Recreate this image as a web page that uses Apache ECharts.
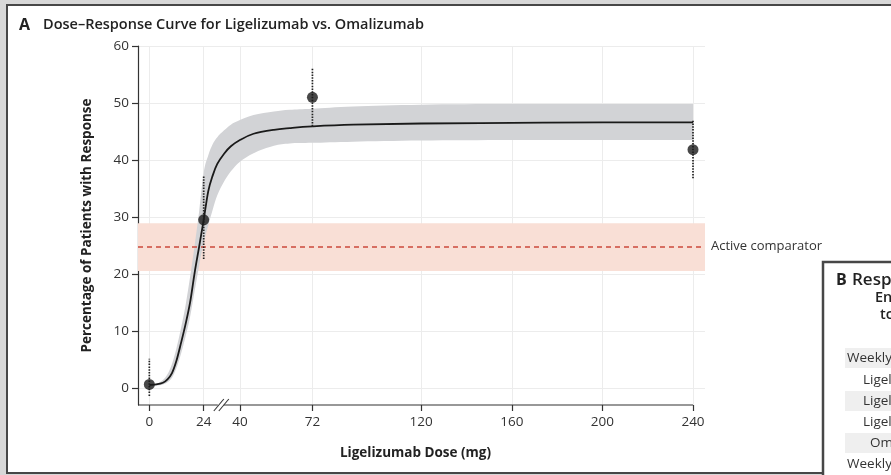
<!DOCTYPE html>
<html>
<head>
<meta charset="utf-8">
<title>Dose-Response Curve</title>
<script src="https://cdn.jsdelivr.net/npm/echarts@6/dist/echarts.min.js"></script>
<style>
    html, body { margin: 0; padding: 0; background: #d8d8d8; overflow: hidden; }
    #frame {
        position: absolute; left: 6px; top: 3.5px; width: 1000px; height: 466px;
        background: #fff; border: 2.5px solid #474747;
    }
    #chart { position: absolute; left: 0; top: 0; width: 891px; height: 475px; }
</style>
</head>
<body>
<div id="frame"></div>
<div id="chart"></div>
<script>
"use strict";

// fitted curve (dose in mg, % with response)
var curveDoses  = [0, 3, 6, 8, 10, 12, 14, 16, 18, 20, 22, 24, 26, 28, 30, 33, 36, 40, 46, 55, 62, 72, 90, 120, 160, 200, 240];
var curveValues = [0.5, 0.6, 0.9, 1.5, 2.6, 4.8, 7.9, 11.2, 15.0, 20.2, 24.8, 29.5, 34.5, 37.3, 39.3, 41.1, 42.4, 43.5, 44.6, 45.3, 45.6, 45.9, 46.2, 46.4, 46.5, 46.6, 46.6];
// shaded uncertainty band around the curve
var bandUpper   = [0.5, 0.7, 1.4, 2.4, 4.2, 7.0, 10.5, 14.5, 19.5, 25.0, 31.0, 37.8, 40.8, 42.8, 44.0, 45.2, 46.2, 47.0, 47.9, 48.5, 48.8, 49.0, 49.4, 49.7, 49.8, 49.8, 49.8];
var bandLower   = [0.3, 0.4, 0.6, 1.0, 1.8, 3.5, 6.0, 9.0, 12.5, 17.0, 21.5, 25.5, 28.5, 31.3, 33.8, 36.2, 38.0, 39.7, 41.2, 42.5, 42.9, 43.0, 43.2, 43.4, 43.5, 43.5, 43.5];

// observed response rates with intervals
var pointDoses  = [0, 24, 72, 240];
var pointValues = [0.6, 29.5, 51.0, 41.8];
var pointLow    = [-1.4, 22.6, 45.9, 36.8];
var pointHigh   = [5.1, 37.1, 56.1, 47.0];

// active comparator (omalizumab)
var comparatorValue = 24.8;
var comparatorLow   = 20.5;
var comparatorHigh  = 28.9;

var xTicks = [0, 24, 40, 72, 120, 160, 200, 240];
var yTicks = [0, 10, 20, 30, 40, 50, 60];

var panelBRows = [
    'Weekly hives-severity score of 0',
    'Ligelizumab, 72 mg',
    'Ligelizumab, 240 mg',
    'Ligelizumab, 24 mg',
    'Omalizumab, 300 mg',
    'Weekly urticaria activity score of 0'
];

var FONT = '"Open Sans", "Noto Sans", sans-serif';
var X_MIN = -5, X_MAX = 245.3, Y_MIN = -3, Y_MAX = 60;
var X_AXIS_END = 240, X_BREAK = 32;

var chart = echarts.init(document.getElementById('chart'), null, { renderer: 'canvas' });

function pairs(xs, ys) {
    var out = [];
    for (var i = 0; i < xs.length; i++) {
        out.push([xs[i], ys[i]]);
    }
    return out;
}

/**
 * catmull-rom through pixel points, as svg path commands (no leading M)
 */
function smoothSegments(pts) {
    var d = '';
    for (var i = 0; i < pts.length - 1; i++) {
        var p0 = pts[i - 1] || pts[i];
        var p1 = pts[i];
        var p2 = pts[i + 1];
        var p3 = pts[i + 2] || p2;
        var c1x = p1[0] + (p2[0] - p0[0]) / 6, c1y = p1[1] + (p2[1] - p0[1]) / 6;
        var c2x = p2[0] - (p3[0] - p1[0]) / 6, c2y = p2[1] - (p3[1] - p1[1]) / 6;
        d += ' C' + c1x + ',' + c1y + ' ' + c2x + ',' + c2y + ' ' + p2[0] + ',' + p2[1];
    }
    return d;
}

var errorData = [];
for (var j = 0; j < pointDoses.length; j++) {
    errorData.push([pointDoses[j], pointValues[j], pointLow[j], pointHigh[j]]);
}

// panel B (cut off at the right edge)
var panelB = [
    { type: 'rect', z: 50, shape: { x: 823, y: 262, width: 120, height: 260 },
      style: { fill: '#fff', stroke: '#474747', lineWidth: 2.5 } },
    { type: 'text', z: 51, x: 836, y: 280,
      style: { text: 'B', font: 'bold 16px ' + FONT, fill: '#222', verticalAlign: 'middle' } },
    { type: 'text', z: 51, x: 852, y: 280,
      style: { text: 'Response Rates at Week 12', font: '600 17px ' + FONT, fill: '#222', verticalAlign: 'middle' } },
    { type: 'text', z: 51, x: 875, y: 298,
      style: { text: 'End Point', font: '600 14.5px ' + FONT, fill: '#222', verticalAlign: 'middle' } },
    { type: 'text', z: 51, x: 880, y: 315,
      style: { text: 'to Week 12', font: '600 14.5px ' + FONT, fill: '#222', verticalAlign: 'middle' } }
];
var rowY = [358, 380, 401, 422, 443, 464];
var rowX = [847, 863, 863, 863, 870, 847];
for (var r = 0; r < panelBRows.length; r++) {
    if (r % 2 === 0) {
        panelB.push({ type: 'rect', z: 50, shape: { x: 845, y: rowY[r] - 10, width: 60, height: 20 },
            style: { fill: '#efefef' } });
    }
    panelB.push({ type: 'text', z: 51, x: rowX[r], y: rowY[r],
        style: { text: panelBRows[r], font: '13.5px ' + FONT, fill: '#333', verticalAlign: 'middle' } });
}

var option = {
    animation: false,
    textStyle: { fontFamily: FONT },
    grid: { left: 138, right: 186, top: 46, bottom: 70 },
    xAxis: {
        type: 'value',
        min: X_MIN,
        max: X_MAX,
        name: 'Ligelizumab Dose (mg)',
        nameLocation: 'middle',
        nameGap: 41,
        nameTextStyle: { fontWeight: 'bold', fontSize: 13.5, color: '#222', padding: [0, 12, 0, 0] },
        axisLine: { show: false, onZero: false },
        axisTick: { show: true, length: 6, customValues: xTicks, lineStyle: { color: '#333', width: 1.2 } },
        axisLabel: { customValues: xTicks, color: '#333', fontSize: 13.5, margin: 10 },
        splitLine: { show: true, lineStyle: { color: '#ececec', width: 1 } }
    },
    yAxis: {
        type: 'value',
        min: Y_MIN,
        max: Y_MAX,
        name: 'Percentage of Patients with Response',
        nameLocation: 'middle',
        nameGap: 44,
        nameTextStyle: { fontWeight: 'bold', fontSize: 13.5, color: '#222' },
        axisLine: { show: true, onZero: false, lineStyle: { color: '#333', width: 1.2 } },
        axisTick: { show: true, length: 6, customValues: yTicks, lineStyle: { color: '#333', width: 1.2 } },
        axisLabel: { customValues: yTicks, color: '#333', fontSize: 13.5, margin: 9 },
        splitLine: { show: true, lineStyle: { color: '#ececec', width: 1 } }
    },
    series: [
        {
            // comparator band, dashed line and label
            name: 'comparator',
            type: 'custom',
            data: [[X_MIN, X_MAX, comparatorLow, comparatorHigh]],
            silent: true,
            clip: false,
            z: 1,
            renderItem: function (params, api) {
                var p0 = api.coord([api.value(0), api.value(3)]);
                var p1 = api.coord([api.value(1), api.value(2)]);
                return {
                    type: 'rect',
                    shape: { x: p0[0], y: p0[1], width: p1[0] - p0[0], height: p1[1] - p0[1] },
                    style: { fill: '#f9dfd6' }
                };
            },
            markLine: {
                silent: true,
                symbol: 'none',
                z: 4,
                lineStyle: { color: '#cc4a3c', type: [5, 4], width: 1.5 },
                label: {
                    position: 'end',
                    formatter: 'Active comparator',
                    color: '#333',
                    fontSize: 13,
                    distance: 6
                },
                data: [{ yAxis: comparatorValue }]
            }
        },
        {
            // uncertainty band: upper edge forward, lower edge back
            name: 'band',
            type: 'custom',
            data: [[0]],
            silent: true,
            z: 2,
            renderItem: function (params, api) {
                var up = [], low = [];
                for (var k = 0; k < curveDoses.length; k++) {
                    up.push(api.coord([curveDoses[k], bandUpper[k]]));
                }
                for (var m = curveDoses.length - 1; m >= 0; m--) {
                    low.push(api.coord([curveDoses[m], bandLower[m]]));
                }
                var d = 'M' + up[0][0] + ',' + up[0][1] + smoothSegments(up)
                    + ' L' + low[0][0] + ',' + low[0][1] + smoothSegments(low) + ' Z';
                return {
                    type: 'path',
                    shape: { pathData: d },
                    style: { fill: '#d2d3d6' }
                };
            }
        },
        {
            // fitted curve
            name: 'curve',
            type: 'custom',
            data: [[0]],
            silent: true,
            z: 5,
            renderItem: function (params, api) {
                var pts = [];
                for (var k = 0; k < curveDoses.length; k++) {
                    pts.push(api.coord([curveDoses[k], curveValues[k]]));
                }
                return {
                    type: 'path',
                    shape: { pathData: 'M' + pts[0][0] + ',' + pts[0][1] + smoothSegments(pts) },
                    style: { fill: null, stroke: '#1a1a1a', lineWidth: 1.8 }
                };
            }
        },
        {
            // x axis line (ends at 240) with the break mark
            name: 'axisDecor',
            type: 'custom',
            data: [[X_MIN, X_AXIS_END, X_BREAK]],
            silent: true,
            clip: false,
            z: 5,
            renderItem: function (params, api) {
                var a0 = api.coord([api.value(0), Y_MIN]);
                var a1 = api.coord([api.value(1), Y_MIN]);
                var b = api.coord([api.value(2), Y_MIN]);
                return {
                    type: 'group',
                    children: [
                        { type: 'line', shape: { x1: a0[0], y1: a0[1], x2: a1[0], y2: a1[1] },
                          style: { stroke: '#333', lineWidth: 1.2 } },
                        { type: 'rect', shape: { x: b[0] - 4, y: b[1] - 2, width: 6, height: 4 },
                          style: { fill: '#fff' } },
                        { type: 'line', shape: { x1: b[0] - 8, y1: b[1] + 6, x2: b[0] + 2, y2: b[1] - 6 },
                          style: { stroke: '#333', lineWidth: 1.1 } },
                        { type: 'line', shape: { x1: b[0] - 3, y1: b[1] + 6, x2: b[0] + 7, y2: b[1] - 6 },
                          style: { stroke: '#333', lineWidth: 1.1 } }
                    ]
                };
            }
        },
        {
            name: 'interval',
            type: 'custom',
            data: errorData,
            silent: true,
            clip: false,
            z: 6,
            renderItem: function (params, api) {
                var lo = api.coord([api.value(0), api.value(2)]);
                var hi = api.coord([api.value(0), api.value(3)]);
                return {
                    type: 'line',
                    shape: { x1: lo[0], y1: lo[1], x2: hi[0], y2: hi[1] },
                    style: { stroke: '#222', lineWidth: 1.7, lineDash: [1.5, 1.3] }
                };
            }
        },
        {
            name: 'observed',
            type: 'scatter',
            data: pairs(pointDoses, pointValues),
            symbolSize: 11,
            itemStyle: { color: '#1a1a1a' },
            silent: true,
            z: 7
        }
    ],
    graphic: [
        { type: 'text', z: 5, x: 19, y: 25,
          style: { text: 'A', font: 'bold 16px ' + FONT, fill: '#222', verticalAlign: 'middle' } },
        { type: 'text', z: 5, x: 43, y: 25,
          style: { text: 'Dose\u2013Response Curve for Ligelizumab vs. Omalizumab', font: '600 14.5px ' + FONT, fill: '#222', verticalAlign: 'middle' } }
    ].concat(panelB)
};

chart.setOption(option);
</script>
</body>
</html>
